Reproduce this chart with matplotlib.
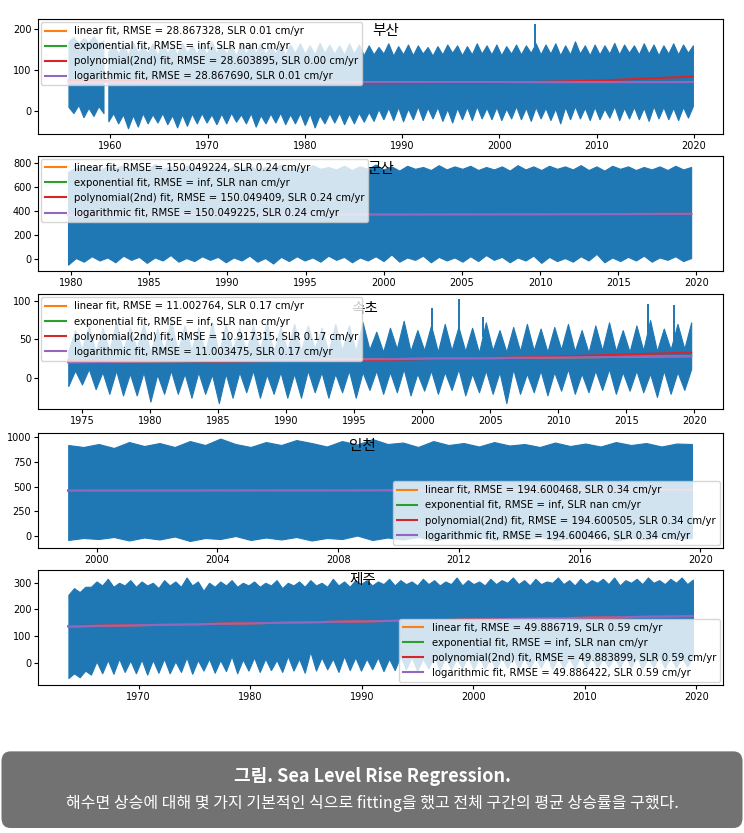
import numpy as np
import matplotlib.pyplot as plt
from matplotlib.patches import FancyBboxPatch

plt.rcParams['font.family'] = ['DejaVu Sans', 'Noto Sans CJK KR']

stations = ['부산', '군산', '속초', '인천', '제주']

# --- sea level envelopes (half-year steps: winter, summer) ---
busan_a_span = (1955.7, 1959.3)
busan_a_upper = [170, 180, 165, 178, 168, 182, 165, 172]
busan_a_lower = [10, -5, 15, -15, 8, -12, 12, -5]

busan_span = (1959.8, 2019.9)
busan_upper = [145, 165, 140, 162, 138, 168, 142, 160, 140, 165, 136, 170, 140, 162, 138, 166,
               142, 160, 140, 165, 138, 170, 142, 162, 140, 160, 136, 166, 140, 162, 142, 165,
               138, 160, 140, 166, 136, 162, 142, 165, 140, 160, 138, 166, 142, 162, 140, 160,
               138, 165, 140, 162, 136, 160, 138, 156, 140, 165, 135, 158, 138, 162, 136, 160,
               140, 156, 135, 158, 138, 162, 142, 160, 136, 158, 138, 165, 140, 160, 138, 162,
               136, 158, 140, 162, 138, 160, 142, 165, 138, 162, 140, 165, 136, 160, 138, 170,
               140, 160, 136, 162, 138, 160, 140, 166, 138, 162, 142, 160, 138, 165, 140, 162,
               136, 160, 140, 165, 138, 162, 142, 160]
busan_lower = [-25, -5, -30, -8, -42, -10, -38, -5, -30, -8, -28, -5, -32, -10, -40, -8,
               -36, -6, -30, -5, -28, -8, -32, -6, -30, -4, -26, -8, -30, -5, -38, -10,
               -30, -6, -28, -4, -32, -8, -30, -5, -34, -6, -40, -10, -30, -5, -28, -4,
               -32, -6, -30, -4, -26, -2, -24, 5, -20, 8, -22, 10, -25, 6, -20, 12,
               -22, 8, -18, 10, -24, 5, -28, 8, -20, 10, -22, 12, -18, 8, -20, 10,
               -22, 6, -18, 12, -20, 8, -24, 10, -18, 8, -22, 6, -30, 10, -20, 12,
               -18, 8, -22, 10, -20, 6, -16, 12, -22, 8, -18, 10, -20, 8, -24, 12,
               -18, 10, -20, 8, -22, 10, -16, 12]

gunsan_span = (1979.8, 2019.66)
gunsan_upper = [725, 760, 750, 775, 740, 770, 755, 780, 745, 765, 735, 790, 750, 770, 740, 775,
                755, 765, 745, 780, 735, 770, 750, 775, 740, 765, 755, 785, 745, 770, 740, 780,
                750, 765, 745, 775, 740, 770, 750, 785, 745, 770, 735, 775, 750, 765, 740, 780,
                745, 770, 750, 775, 740, 765, 745, 770, 735, 780, 745, 770, 740, 775, 750, 770,
                745, 780, 740, 770, 735, 775, 750, 770, 740, 765, 745, 770, 740, 775, 745, 765]
gunsan_lower = [-45, 10, -20, 25, -10, 15, -25, 30, -5, 20, -30, 15, -10, 35, -20, 10,
                -15, 25, -5, 20, -25, 15, -10, 30, -20, 10, -35, 20, -15, 25, -10, 15,
                -20, 30, -5, 20, -25, 15, -10, 25, -15, 40, -20, 15, -5, 30, -25, 20,
                -10, 15, -20, 25, -15, 35, -5, 20, -25, 15, -10, 30, -30, 20, -15, 10,
                -20, 25, -10, 45, -25, 15, -15, 20, -10, 30, -20, 15, -5, 25, -15, 10]

sokcho_span = (1974.0, 2019.76)
sokcho_upper = [35, 62, 38, 68, 34, 65, 36, 72, 35, 66, 38, 70, 33, 64, 36, 75,
                35, 68, 37, 66, 34, 72, 32, 70, 36, 65, 35, 68, 37, 72, 34, 66,
                36, 70, 35, 68, 38, 65, 34, 70, 36, 68, 35, 72, 37, 60, 34, 65,
                38, 74, 35, 62, 36, 68, 34, 70, 36, 66, 35, 65, 33, 72, 36, 62,
                34, 66, 35, 70, 36, 64, 34, 66, 37, 70, 35, 62, 33, 68, 36, 72,
                35, 62, 34, 68, 36, 75, 35, 64, 37, 70, 38, 72]
sokcho_lower = [-10, 10, -8, 12, -14, 8, -20, 10, -22, 6, -22, 8, -30, 5, -20, 10,
                -20, 6, -25, 8, -20, 5, -32, 6, -25, 8, -18, 10, -25, 5, -20, 8,
                -25, 6, -25, 10, -18, 8, -25, 6, -18, 10, -25, 8, -15, 10, -20, 8,
                -18, 12, -22, 6, -16, 10, -20, 8, -15, 12, -22, 6, -18, 10, -20, 8,
                -32, 12, -20, 6, -18, 10, -22, 8, -16, 12, -20, 6, -18, 10, -15, 12,
                -20, 8, -16, 10, -18, 6, -24, 10, -20, 8, -15, 12]

incheon_span = (1999.06, 2019.72)
incheon_upper = [920, 900, 930, 890, 950, 910, 940, 900, 960, 920, 985, 930, 900, 950, 920, 970,
                 940, 905, 960, 925, 980, 930, 945, 900, 960, 920, 940, 905, 950, 915, 930, 900,
                 945, 910, 935, 905, 950, 920, 940, 905, 935, 930]
incheon_lower = [-40, -20, -30, -10, -45, -15, -35, -5, -50, -20, -30, 0, -40, -15, -35, -10,
                 -45, -20, -30, 5, -40, -15, -35, -10, -45, -20, -30, -5, -40, -15, -35, -10,
                 -40, -20, -30, -5, -45, -15, -35, -10, -30, -20]

jeju_span = (1963.7, 2019.7)
jeju_upper = [255, 280, 265, 285, 285, 305, 290, 315, 285, 300, 290, 310, 285, 305, 290, 300,
              280, 310, 290, 305, 285, 320, 290, 305, 270, 300, 285, 305, 290, 310, 285, 300,
              290, 305, 285, 300, 290, 310, 280, 300, 290, 305, 285, 310, 290, 300, 285, 315,
              290, 305, 285, 310, 295, 310, 290, 305, 295, 315, 290, 310, 295, 305, 290, 315,
              295, 310, 290, 305, 295, 320, 290, 310, 295, 305, 290, 315, 295, 310, 300, 320,
              295, 310, 290, 315, 295, 305, 300, 320, 295, 310, 290, 315, 295, 310, 300, 315,
              295, 320, 290, 310, 300, 315, 295, 320, 300, 310, 295, 315, 300, 320, 295, 312]
jeju_lower = [-58, -40, -55, -30, -45, 5, -40, 10, -42, 15, -35, 8, -40, 12, -45, 10,
              -38, 15, -40, 5, -35, 20, -42, 10, -30, 15, -38, 10, -32, 25, -40, 12,
              -30, 20, -35, 15, -28, 10, -35, 25, -30, 15, -38, 42, -30, 20, -25, 15,
              -35, 25, -28, 20, -30, 15, -25, 20, -32, 15, -28, 25, -25, 20, -30, 15,
              -22, 25, -28, 20, -25, 15, -20, 25, -25, 20, -22, 18, -26, 22, -20, 25,
              -24, 18, -22, 20, -18, 25, -24, 20, -20, 18, -22, 25, -18, 20, -20, 15,
              -16, 22, -20, 25, -18, 20, -22, 18, -16, 25, -20, 22, -18, 20, -15, 22]

# isolated storm-surge spikes (year, value)
busan_spikes = [(2003.7, 213)]
sokcho_spikes = [(2000.7, 91), (2002.7, 102), (2004.5, 79), (2016.6, 96), (2018.5, 94)]

# --- fitted curves (year, value) ---
fit_years = [[1955.7, 1970, 1985, 2000, 2010, 2019.9],
             [1979.8, 2000, 2019.66],
             [1974.0, 1985, 1996, 2008, 2019.76],
             [1999.06, 2019.72],
             [1963.7, 1990, 2019.7]]
fit_linear = [[70.0, 70.2, 70.3, 70.5, 70.6, 70.7],
              [366, 371, 376],
              [20.6, 22.5, 24.4, 26.4, 28.4],
              [459, 466],
              [136, 155, 175]]
fit_poly = [[75, 70.5, 67.5, 69, 74, 84],
            [366, 371, 376],
            [23.5, 21.5, 23.4, 27, 33],
            [459, 466],
            [137, 155, 175]]
fit_log = [[70.0, 70.2, 70.3, 70.5, 70.6, 70.7],
           [366, 371, 376],
           [20.6, 22.5, 24.4, 26.4, 28.4],
           [459, 466],
           [136, 155, 175]]

rmse_linear = [28.867328, 150.049224, 11.002764, 194.600468, 49.886719]
rmse_poly = [28.603895, 150.049409, 10.917315, 194.600505, 49.883899]
rmse_log = [28.867690, 150.049225, 11.003475, 194.600466, 49.886422]
slr_linear = [0.01, 0.24, 0.17, 0.34, 0.59]
slr_poly = [0.00, 0.24, 0.17, 0.34, 0.59]
slr_log = [0.01, 0.24, 0.17, 0.34, 0.59]

segments = [
    [(busan_a_span, busan_a_upper, busan_a_lower), (busan_span, busan_upper, busan_lower)],
    [(gunsan_span, gunsan_upper, gunsan_lower)],
    [(sokcho_span, sokcho_upper, sokcho_lower)],
    [(incheon_span, incheon_upper, incheon_lower)],
    [(jeju_span, jeju_upper, jeju_lower)],
]
spikes = [busan_spikes, [], sokcho_spikes, [], []]

# layout
bottoms = [0.8391, 0.675, 0.5086, 0.3425, 0.1777]
xlims = [(1952.6, 2023.0), (1977.9, 2021.7), (1971.8, 2022.1), (1998.07, 2020.75), (1961.0, 2022.4)]
ylims = [(-56, 224), (-95, 858), (-40, 108), (-118, 1044), (-84, 348)]
xsteps = [10, 5, 5, 4, 10]
ysteps = [100, 200, 50, 250, 100]
legend_locs = ['upper left', 'upper left', 'upper left', 'lower right', 'lower right']
title_pos = [(0.507, 0.895), (0.5, 0.885), (0.477, 0.87), (0.474, 0.887), (0.474, 0.91)]

fig = plt.figure(figsize=(7.44, 8.33), dpi=100)

for i, name in enumerate(stations):
    ax = fig.add_axes([0.0515, bottoms[i], 0.9203, 0.138])

    for span, up, lo in segments[i]:
        t = np.linspace(span[0], span[1], len(up))
        ax.fill_between(t, lo, up, color='#1f77b4', lw=0.8)
        for st, sv in spikes[i]:
            if span[0] <= st <= span[1]:
                base = np.interp(st, t, up)
                ax.vlines(st, base - 5, sv, color='#1f77b4', lw=1.4)

    yrs = fit_years[i]
    ax.plot(yrs, fit_linear[i], color='C1',
            label=f'linear fit, RMSE = {rmse_linear[i]:.6f}, SLR {slr_linear[i]:.2f} cm/yr')
    ax.plot(yrs, [np.nan] * len(yrs), color='C2',
            label='exponential fit, RMSE = inf, SLR nan cm/yr')
    ax.plot(yrs, fit_poly[i], color='C3',
            label=f'polynomial(2nd) fit, RMSE = {rmse_poly[i]:.6f}, SLR {slr_poly[i]:.2f} cm/yr')
    ax.plot(yrs, fit_log[i], color='C4',
            label=f'logarithmic fit, RMSE = {rmse_log[i]:.6f}, SLR {slr_log[i]:.2f} cm/yr')

    ax.set_xlim(*xlims[i])
    ax.set_ylim(*ylims[i])
    ax.xaxis.set_major_locator(plt.MultipleLocator(xsteps[i]))
    ax.yaxis.set_major_locator(plt.MultipleLocator(ysteps[i]))
    ax.tick_params(labelsize=7, length=3, pad=2)

    ax.text(title_pos[i][0], title_pos[i][1], name, transform=ax.transAxes,
            ha='center', va='center', fontsize=10.5,
            family=['Noto Sans CJK KR', 'DejaVu Sans'])
    ax.legend(loc=legend_locs[i], fontsize=7.3, borderaxespad=0.3)

# caption box
box = FancyBboxPatch((0.002, 0.006), 0.996, 0.092, transform=fig.transFigure,
                     boxstyle='round,pad=0,rounding_size=0.012',
                     facecolor='#727272', edgecolor='none')
fig.add_artist(box)
fig.text(0.5, 0.068, '그림. Sea Level Rise Regression.', ha='center', va='center',
         color='white', fontsize=13, fontweight='bold', family=['Noto Sans CJK KR'])
fig.text(0.5, 0.036, '해수면 상승에 대해 몇 가지 기본적인 식으로 fitting을 했고 전체 구간의 평균 상승률을 구했다.',
         ha='center', va='center', color='white', fontsize=11.5, family=['Noto Sans CJK KR'])

fig.savefig('out.png', dpi=100)
